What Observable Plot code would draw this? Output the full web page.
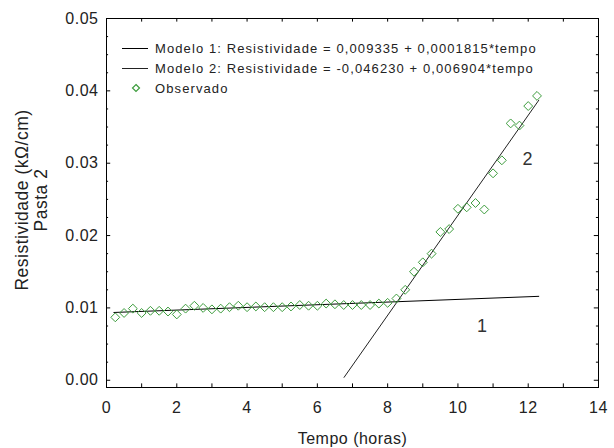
<!DOCTYPE html>
<html>
<head>
<meta charset="utf-8">
<script src="https://cdn.jsdelivr.net/npm/d3@7"></script>
<script src="https://cdn.jsdelivr.net/npm/@observablehq/plot@0.6"></script>
<style>
  html, body { margin: 0; padding: 0; background: #fff; }
  #wrap { position: relative; width: 614px; height: 448px; font-family: "Liberation Sans", Arial, sans-serif; }
  #legend { position: absolute; left: 122px; top: 38px; font-size: 13px; letter-spacing: 1.1px; color: #222; }
  #legend .row { height: 20px; display: flex; align-items: center; white-space: nowrap; }
  #legend svg { width: 33px; height: 20px; flex: none; }
</style>
</head>
<body>
<div id="wrap"><div id="legend"></div></div>
<script>
// Observed data (hours, kΩ/cm)
const tempo = [0.25, 0.5, 0.75, 1.0, 1.25, 1.5, 1.75, 2.0, 2.25, 2.5, 2.75, 3.0, 3.25, 3.5, 3.75, 4.0,
  4.25, 4.5, 4.75, 5.0, 5.25, 5.5, 5.75, 6.0, 6.25, 6.5, 6.75, 7.0, 7.25, 7.5, 7.75, 8.0,
  8.25, 8.5, 8.75, 9.0, 9.25, 9.5, 9.75, 10.0, 10.25, 10.5, 10.75, 11.0, 11.25, 11.5, 11.75, 12.0, 12.25];
const resistividade = [0.0087, 0.0093, 0.0099, 0.0093, 0.0096, 0.0096, 0.0095, 0.0091, 0.0099, 0.0103, 0.0100, 0.0098, 0.0099, 0.0101, 0.0103, 0.0101,
  0.0102, 0.0101, 0.0101, 0.0101, 0.0102, 0.0104, 0.0103, 0.0103, 0.0106, 0.0105, 0.0104, 0.0104, 0.0104, 0.0104, 0.0106, 0.0107,
  0.0113, 0.0125, 0.0150, 0.0163, 0.0175, 0.0205, 0.0209, 0.0237, 0.0239, 0.0245, 0.0236, 0.0286, 0.0304, 0.0355, 0.0352, 0.0379, 0.0393];

// Model lines (end points)
const modelo1Tempo = [0.21, 12.3];
const modelo1Res = [0.00937, 0.0116];
const modelo2Tempo = [6.76, 12.3];
const modelo2Res = [0.0004, 0.0387];

// Curve labels
const rotulos = ["1", "2"];
const rotuloTempo = [10.69, 11.99];
const rotuloRes = [0.0074, 0.0305];

// Legend
const legendaTextos = [
  "Modelo 1: Resistividade = 0,009335 + 0,0001815*tempo",
  "Modelo 2: Resistividade = -0,046230 + 0,006904*tempo",
  "Observado"
];

// Axes
const xDomain = [0, 14];
const yDomain = [-0.001, 0.05];
const xTicks = [0, 2, 4, 6, 8, 10, 12, 14];
const xMinor = d3.range(0, 15, 1);
const yTicks = [0, 0.01, 0.02, 0.03, 0.04, 0.05];
const yMinor = d3.range(0, 21).map(i => +(i * 0.0025).toFixed(4));
const xLabel = "Tempo (horas)";
const yLabel = "Resistividade (kΩ/cm)\nPasta 2";

const green = "#3c9c3c";
const isMajorY = d => Math.abs(Math.round(d * 100) - d * 100) < 1e-6;
const yTickLen = 0.0005; // in data units
const xTickLenMaj = 0.12, xTickLenMin = 0.06;

const chart = Plot.plot({
  width: 614,
  height: 448,
  marginLeft: 106,
  marginRight: 16,
  marginTop: 18,
  marginBottom: 61,
  style: { fontFamily: "Liberation Sans, Arial, sans-serif", color: "#222", letterSpacing: "0.5px", background: "#fff" },
  x: { domain: xDomain },
  y: { domain: yDomain },
  marks: [
    Plot.frame({ stroke: "#000", strokeWidth: 1 }),
    // inward ticks
    Plot.ruleX(xMinor, { x: d => d, y1: yDomain[0], y2: yDomain[0] + yTickLen, stroke: "#000" }),
    Plot.ruleX(xMinor, { x: d => d, y1: yDomain[1] - yTickLen, y2: yDomain[1], stroke: "#000" }),
    Plot.ruleY(yMinor, { y: d => d, x1: xDomain[0], x2: d => xDomain[0] + (isMajorY(d) ? xTickLenMaj : xTickLenMin), stroke: "#000" }),
    Plot.ruleY(yMinor, { y: d => d, x1: d => xDomain[1] - (isMajorY(d) ? xTickLenMaj : xTickLenMin), x2: xDomain[1], stroke: "#000" }),
    Plot.axisX({ ticks: xTicks, tickSize: 0, tickPadding: 14, tickFormat: d => String(d), fontSize: 16,
      label: xLabel, labelAnchor: "center", labelOffset: 56, labelArrow: "none" }),
    Plot.axisY({ ticks: yTicks, tickSize: 0, tickPadding: 8, tickFormat: d3.format(".2f"), fontSize: 16, label: null }),
    Plot.text([yLabel], { text: d => d, frameAnchor: "left", rotate: -90, dx: -75, dy: -3, lineAnchor: "middle",
      textAnchor: "middle", lineHeight: 1.05, fontSize: 17.5, fill: "#222" }),
    Plot.line(modelo1Tempo, { x: modelo1Tempo, y: modelo1Res, stroke: "#000", strokeWidth: 1 }),
    Plot.line(modelo2Tempo, { x: modelo2Tempo, y: modelo2Res, stroke: "#222", strokeWidth: 1 }),
    Plot.dot(tempo, { x: tempo, y: resistividade, symbol: "diamond2", r: 4, stroke: green, strokeWidth: 1 }),
    Plot.text(rotulos, { x: rotuloTempo, y: rotuloRes, text: d => d, fontSize: 18, fill: "#333" })
  ]
});

document.getElementById("wrap").prepend(chart);

// Legend rows
const legend = document.getElementById("legend");
legendaTextos.forEach((t, i) => {
  const row = document.createElement("div");
  row.className = "row";
  const swatch = i < 2
    ? `<svg><line x1="0" x2="26" y1="10.5" y2="10.5" stroke="${i === 0 ? '#000' : '#222'}" stroke-width="1"/></svg>`
    : `<svg><polygon points="14,6.5 17.5,10 14,13.5 10.5,10" fill="none" stroke="${green}" stroke-width="1.2"/></svg>`;
  row.innerHTML = swatch + `<span>${t}</span>`;
  legend.appendChild(row);
});
</script>
</body>
</html>
